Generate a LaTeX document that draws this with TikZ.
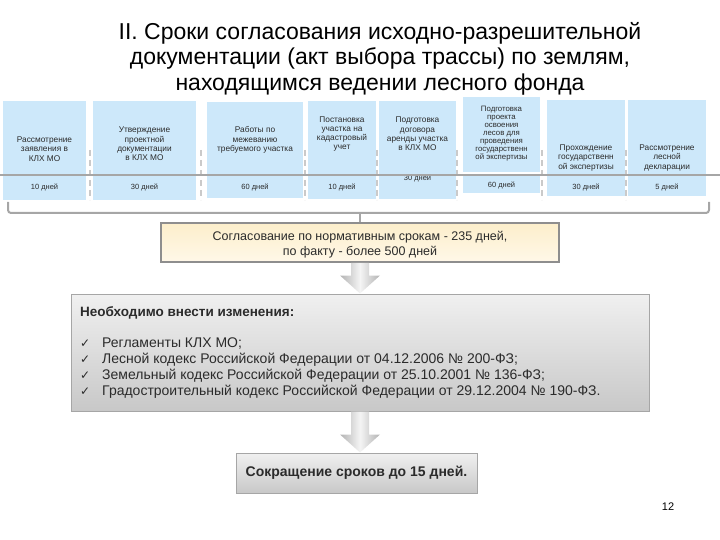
\documentclass[tikz,border=0pt]{standalone}
\usepackage{fontspec}
\setmainfont{Liberation Sans}
\newfontfamily\symfont{DejaVu Sans}
\usepackage{tikz}
\usetikzlibrary{arrows.meta, positioning, calc}
\definecolor{slideblue}{HTML}{CDE8FA}
\definecolor{slidetext}{HTML}{2B2B2B}
\definecolor{slidegray}{HTML}{A6A6A6}
\definecolor{slideborder}{HTML}{8E8E8E}
\definecolor{creamtop}{HTML}{FCEECB}
\definecolor{creambot}{HTML}{FFF8E8}
\definecolor{boxtop}{HTML}{F0F0F0}
\definecolor{boxbot}{HTML}{C8C8C8}

\newcommand{\chk}{\makebox[22pt][l]{\symfont\fontsize{12}{12}\selectfont ✓}}
\newcommand{\blockarrow}[2]{%
  \shade[arrowshade] ($(#1.south)+(-9,0)$) -- ($(#2.north -| #1.south)+(-9,-18)$)
    -- ($(#2.north -| #1.south)+(-20,-18)$) -- (#2.north -| #1.south)
    -- ($(#2.north -| #1.south)+(20,-18)$) -- ($(#2.north -| #1.south)+(9,-18)$)
    -- ($(#1.south)+(9,0)$) -- cycle;}

\begin{document}
\begin{tikzpicture}[x=1pt, y=-1pt,
    colbox/.style={fill=slideblue, anchor=north west, inner sep=0pt},
    stagetext/.style={font=\fontsize{8.3}{9.3}\selectfont, text=slidetext, align=center, inner sep=0pt},
    daytext/.style={font=\fontsize{7.5}{8}\selectfont, text=slidetext, inner sep=0pt},
    sepline/.style={draw=slidegray!60, line width=1.5pt, dash pattern=on 6pt off 4pt},
    timeline/.style={draw=slidegray, line width=2.5pt},
    bracket/.style={draw=slidegray, line width=2pt, rounded corners=3pt},
    sumbox/.style={draw=slideborder, line width=1.5pt, top color=creamtop, bottom color=creambot},
    graybox/.style={draw=slidegray, line width=1pt, top color=boxtop, bottom color=boxbot, inner sep=0pt},
    arrowshade/.style={left color=gray!60, right color=gray!60, middle color=gray!8}
  ]
  \useasboundingbox (0,0) rectangle (720,540);

  \node[font=\fontsize{23}{25.5}\selectfont, align=center, text=black] (title) at (380,58.5)
    {II. Сроки согласования исходно-разрешительной\\документации (акт выбора трассы) по землям,\\находящимся ведении лесного фонда};

  \foreach \sx in {90,201,305,377,457,542,626}
    \draw[sepline] (\sx,150) -- (\sx,200);

  \node[colbox, minimum width=83, minimum height=99] (c1) at (3,101) {};
  \node[colbox, minimum width=103, minimum height=99] (c2) at (93,101) {};
  \node[colbox, minimum width=96, minimum height=96] (c3) at (207,102) {};
  \node[colbox, minimum width=68, minimum height=98] (c4) at (308,101) {};
  \node[colbox, minimum width=77, minimum height=98] (c5) at (379,101) {};
  \node[colbox, minimum width=77, minimum height=75] (c6) at (463,97) {};
  \node[colbox, minimum width=77, minimum height=17] (c6d) at (463,176) {};
  \node[colbox, minimum width=78, minimum height=96] (c7) at (547,100) {};
  \node[colbox, minimum width=78, minimum height=96] (c8) at (628,100) {};

  \node[stagetext] (t1) at (44.5,149) {Рассмотрение\\заявления в\\КЛХ МО};
  \node[stagetext] (t2) at (144.5,144) {Утверждение\\проектной\\документации\\в КЛХ МО};
  \node[stagetext] (t3) at (255,140) {Работы по\\межеванию\\требуемого участка};
  \node[stagetext] (t4) at (342,134) {Постановка\\участка на\\кадастровый\\учет};
  \node[stagetext] (t5) at (417.5,134) {Подготовка\\договора\\аренды участка\\в КЛХ МО};
  \node[stagetext, font=\fontsize{7.8}{8}\selectfont] (t6) at (501.5,134) {Подготовка\\проекта\\освоения\\лесов для\\проведения\\государственн\\ой экспертизы};
  \node[stagetext] (t7) at (586,158) {Прохождение\\государственн\\ой экспертизы};
  \node[stagetext] (t8) at (667,158) {Рассмотрение\\лесной\\декларации};

  \node[daytext] (d1) at (44.5,187) {10 дней};
  \node[daytext] (d2) at (144.5,187) {30 дней};
  \node[daytext] (d3) at (255,187) {60 дней};
  \node[daytext] (d4) at (342,187) {10 дней};
  \node[daytext] (d5) at (417.5,178) {30 дней};
  \node[daytext] (d6) at (501.5,185) {60 дней};
  \node[daytext] (d7) at (586,187) {30 дней};
  \node[daytext] (d8) at (667,187) {5 дней};

  \draw[timeline] (0,175) -- (720,175);

  \draw[bracket] (8,202) -- (8,213) -- (709,213) -- (709,202);
  \coordinate (brk) at (360,213);

  \node[sumbox, minimum width=398, minimum height=39] (sum) at (360,242.5) {};
  \node[font=\fontsize{12.5}{15.5}\selectfont, align=center, text=slidetext] (sumtext) at (360,244.5)
    {Согласование по нормативным срокам - 235 дней,\\по факту - более 500 дней};
  \draw[slidegray, line width=2pt] (brk) -- (sum);

  \node[graybox, minimum width=578, minimum height=117] (need) at (360,352.5) {};
  \node[font=\fontsize{13.5}{15}\selectfont\bfseries, text=slidetext, anchor=west, inner sep=0pt] (head) at (80,313) {Необходимо внести изменения:};
  \node[font=\fontsize{14}{16}\selectfont, text=slidetext, align=left, anchor=west, inner sep=0pt] (laws) at (80,368)
    {\chk Регламенты КЛХ МО;\\\chk Лесной кодекс Российской Федерации от 04.12.2006 № 200-ФЗ;\\\chk Земельный кодекс Российской Федерации от 25.10.2001 № 136-ФЗ;\\\chk Градостроительный кодекс Российской Федерации от 29.12.2004 № 190-ФЗ.};

  \node[graybox, minimum width=241, minimum height=40, font=\fontsize{14}{16}\selectfont\bfseries, text=slidetext] (cut) at (356.5,473) {Сокращение сроков до 15 дней.};

  \blockarrow{sum}{need}
  \blockarrow{need}{cut}

  \node[font=\fontsize{11}{13}\selectfont] (pg) at (668,507) {12};
\end{tikzpicture}
\end{document}
